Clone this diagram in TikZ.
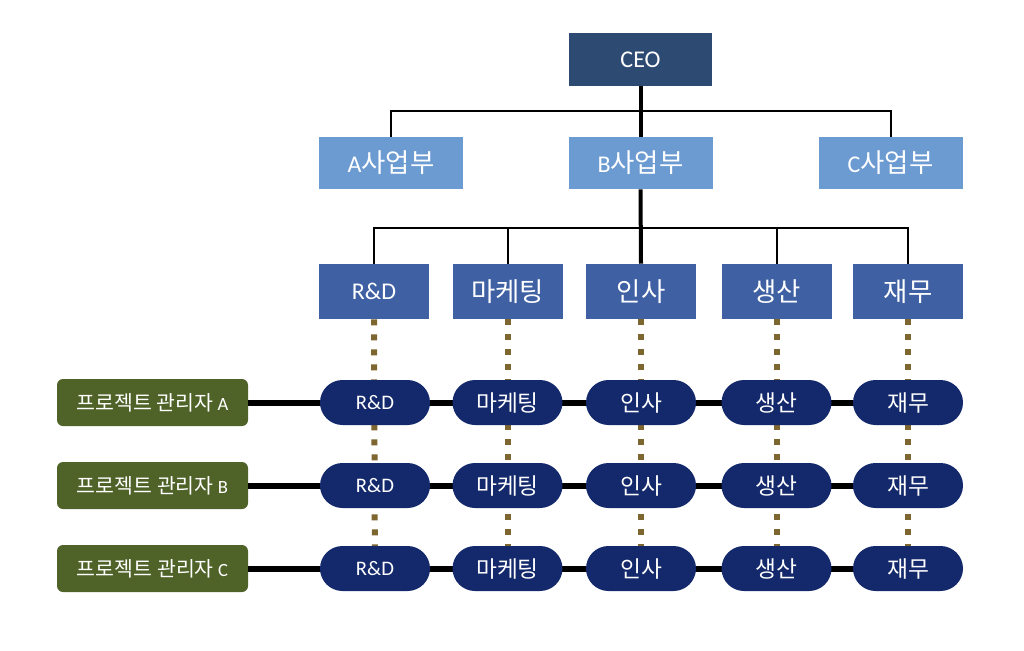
\documentclass[tikz,border=0pt]{standalone}
\usepackage{fontspec}
\setmainfont{Carlito}
\newfontfamily\kr[Scale=1.1]{Noto Sans CJK KR}
\usetikzlibrary{shapes.misc}
\definecolor{ceoC}{HTML}{2C4A72}
\definecolor{divC}{HTML}{6C9BD2}
\definecolor{depC}{HTML}{3F61A4}
\definecolor{pillC}{HTML}{13296B}
\definecolor{pmC}{HTML}{4F6228}
\definecolor{dotC}{HTML}{7D6630}
\tikzset{
  box/.style={rectangle, text=white, inner sep=0pt, font=\fontsize{18}{20}\selectfont},
  ceobox/.style={box, fill=ceoC, minimum width=107.25pt, minimum height=39.75pt},
  divbox/.style={box, fill=divC, minimum width=108pt, minimum height=39pt},
  depbox/.style={box, fill=depC, minimum width=82.5pt, minimum height=41.25pt},
  pill/.style={rounded rectangle, text=white, fill=pillC, inner sep=0pt, minimum width=82.5pt, minimum height=33.75pt, font=\fontsize{15.5}{17}\selectfont},
  pmbox/.style={rectangle, rounded corners=4.5pt, text=white, fill=pmC, inner sep=0pt, minimum width=143.25pt, minimum height=35.25pt, font=\fontsize{14}{16}\selectfont},
  thin/.style={line width=1.5pt, black},
  thick/.style={line width=3pt, black},
  bus/.style={line width=4.5pt, black},
  dotline/.style={line width=4.5pt, dotC, dash pattern=on 4.5pt off 6.75pt},
}
\begin{document}
\begin{tikzpicture}[x=0.75pt, y=-0.75pt]
\useasboundingbox (0,0) rectangle (1024,650);
% nodes
\node[ceobox] (ceo) at (640.5,59.5) {CEO};
\node[divbox] (da) at (391,163) {A{\kr 사업부}};
\node[divbox] (db) at (640.5,163) {B{\kr 사업부}};
\node[divbox] (dc) at (890.5,163) {C{\kr 사업부}};
\coordinate (bus1) at (640.5,111);
\coordinate (bus2) at (640.5,228);
\foreach \i/\x/\t in {1/374/R\&D,2/507.5/{\kr 마케팅},3/641/{\kr 인사},4/776.5/{\kr 생산},5/908/{\kr 재무}}{
  \node[depbox] (dep\i) at (\x,291.5) {\t};
}
\foreach \r/\y in {A/402.5,B/485.5,C/568.5}{
  \foreach \i/\x in {1/375,2/507.5,3/641,4/776.5,5/908}{
    \coordinate (p\r\i) at (\x,\y);
  }
  \coordinate (pm\r) at (152.5,\y);
}
% dotted verticals (behind pills)
\foreach \i in {1,...,5}{
  \draw[dotline] (dep\i.south) -- (pC\i |- 0,590);
}
% row lines
\foreach \r in {A,B,C}{
  \node[pmbox] (m\r) at (pm\r) {{\kr 프로젝트 관리자} \r};
  \draw[bus] (m\r.east) -- (p\r5);
}
\foreach \r in {A,B,C}{
  \foreach \i/\t in {1/R\&D,2/{\kr 마케팅},3/{\kr 인사},4/{\kr 생산},5/{\kr 재무}}{
    \node[pill] (n\r\i) at (p\r\i) {\t};
  }
}
% tree connectors
\draw[thick] (ceo.south) -- (db.north);
\draw[thin] (da.north) -- (da.north |- bus1) -- (dc.north |- bus1) -- (dc.north);
\draw[thick] (db.south) -- (dep3.north);
\draw[thin] (dep1.north) -- (dep1.north |- bus2) -- (dep5.north |- bus2) -- (dep5.north);
\draw[thin] (dep2.north) -- (dep2.north |- bus2);
\draw[thin] (dep4.north) -- (dep4.north |- bus2);
\end{tikzpicture}
\end{document}
